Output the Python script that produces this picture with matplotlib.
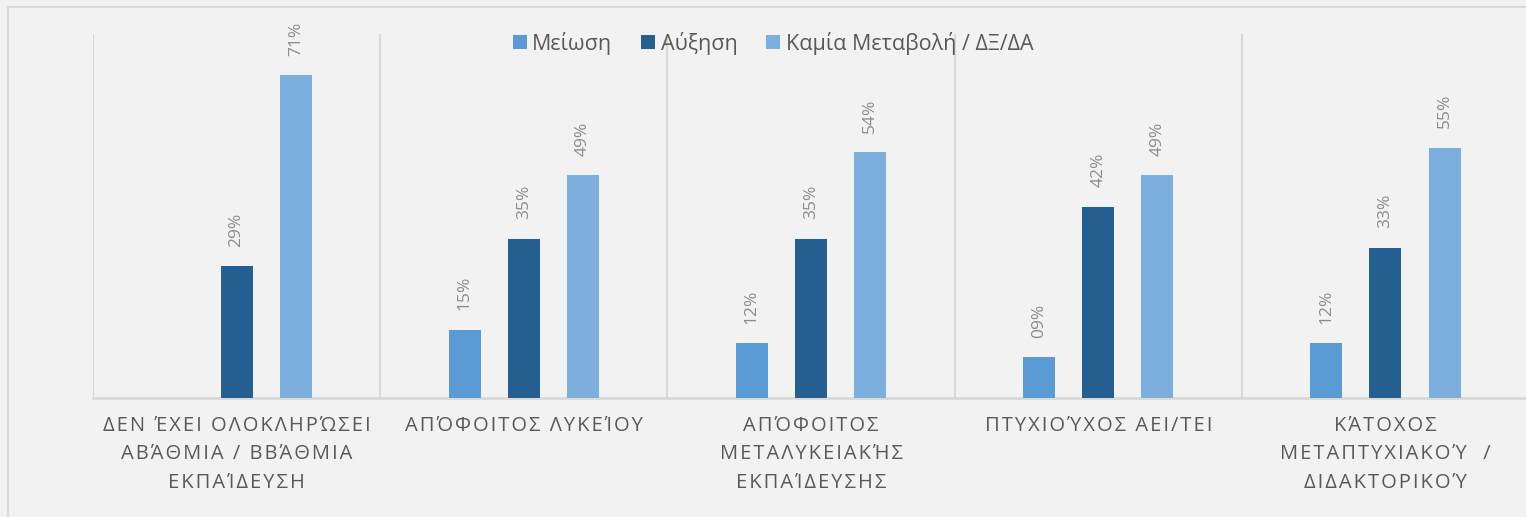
import numpy as np
import matplotlib.pyplot as plt
from matplotlib.patches import Rectangle

plt.rcParams['font.family'] = ['Open Sans', 'DejaVu Sans']

# Data
categories = [
    "ΔΕΝ ΈΧΕΙ ΟΛΟΚΛΗΡΏΣΕΙ\nΑΒΆΘΜΙΑ / ΒΒΆΘΜΙΑ\nΕΚΠΑΊΔΕΥΣΗ",
    "ΑΠΌΦΟΙΤΟΣ ΛΥΚΕΊΟΥ",
    "ΑΠΌΦΟΙΤΟΣ\nΜΕΤΑΛΥΚΕΙΑΚΉΣ\nΕΚΠΑΊΔΕΥΣΗΣ",
    "ΠΤΥΧΙΟΎΧΟΣ ΑΕΙ/ΤΕΙ",
    "ΚΆΤΟΧΟΣ\nΜΕΤΑΠΤΥΧΙΑΚΟΎ  /\nΔΙΔΑΚΤΟΡΙΚΟΎ",
]
series_names = ["Μείωση", "Αύξηση", "Καμία Μεταβολή / ΔΞ/ΔΑ"]
meiosi = [0.0, 0.15, 0.12, 0.09, 0.12]
afxisi = [0.29, 0.35, 0.35, 0.42, 0.33]
kamia = [0.71, 0.49, 0.54, 0.49, 0.55]
colors = ["#5b9bd5", "#255e91", "#7cafdd"]

bg = "#f2f2f2"
grid_c = "#d9d9d9"


def spaced(s):
    # letter spacing like the original
    return "\n".join("\u200a".join(line) for line in s.split("\n"))


fig = plt.figure(figsize=(15.26, 5.17), dpi=100, facecolor=bg)
ax = fig.add_axes([93 / 1526, 119 / 517, 1436 / 1526, 364 / 517])
ax.set_facecolor(bg)

# outer chart border
fig.patches.append(Rectangle((8 / 1526, -0.1), 2, 1.1 - 7 / 517, transform=fig.transFigure,
                             fill=False, edgecolor=grid_c, linewidth=1.5))

x = np.arange(len(categories))
w = 0.111
off = 0.206
for i, (vals, name) in enumerate(zip([meiosi, afxisi, kamia], series_names)):
    xs = x + (i - 1) * off
    bars = ax.bar(xs, vals, w, color=colors[i], label=name, zorder=3)
    for xi, v in zip(xs, vals):
        if v > 0:
            ax.annotate(f"{round(v * 100):02d}%", (xi, v), xytext=(0, 14),
                        textcoords="offset points", rotation=90, ha="center",
                        va="bottom", fontsize=12.5, color="#8c8c8c")

ax.set_xlim(-0.5, len(categories) - 0.5)
ax.set_ylim(0, 0.8)
ax.set_yticks([])
ax.set_xticks(x)
ax.set_xticklabels([spaced(c) for c in categories], fontsize=14.5, color="#595959",
                   linespacing=1.55)
ax.tick_params(axis="x", length=0, pad=13)

# category separators
ax.set_xticks(np.arange(len(categories) + 1) - 0.5, minor=True)
ax.tick_params(axis="x", which="minor", length=0)
ax.grid(True, which="minor", axis="x", color=grid_c, linewidth=1.5, zorder=0)

for s in ["top", "right", "left"]:
    ax.spines[s].set_visible(False)
ax.spines["bottom"].set_color(grid_c)
ax.spines["bottom"].set_linewidth(2)

leg = ax.legend(loc="upper center", ncol=3, frameon=False,
                fontsize=15.5, handlelength=0.65, handleheight=0.65,
                handletextpad=0.25, columnspacing=1.35,
                bbox_to_anchor=(0.4735, 1.06), bbox_transform=ax.transAxes)
for t in leg.get_texts():
    t.set_color("#595959")

fig.savefig("out.png", dpi=100, facecolor=bg)
